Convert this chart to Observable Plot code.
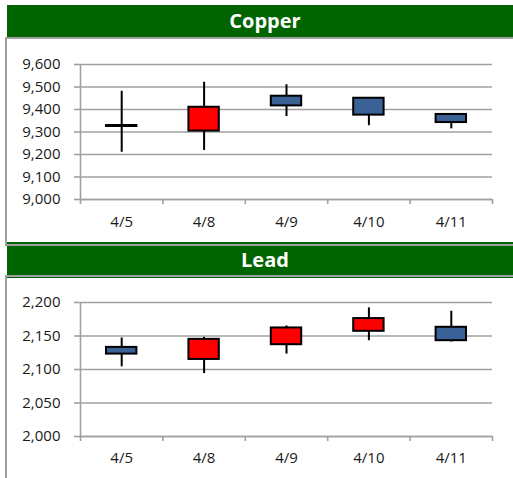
<!DOCTYPE html>
<html>
<head>
<meta charset="utf-8">
<script src="https://cdn.jsdelivr.net/npm/d3@7"></script>
<script src="https://cdn.jsdelivr.net/npm/@observablehq/plot@0.6"></script>
<style>
  html, body { margin: 0; padding: 0; }
  body { width: 513px; height: 478px; overflow: hidden; position: relative; background: #fff; font-family: "Open Sans", sans-serif; }
  .hdr { position: absolute; left: 7px; width: 516px; background: #006400; color: #fff; font-weight: bold; font-size: 20px; text-align: center; }
  .frame { position: absolute; left: 5px; width: 520px; box-sizing: border-box; border: 2px solid #a0a0a0; border-right: none; background: transparent; }
  .chart { position: absolute; left: 0; }
</style>
</head>
<body>
<div class="hdr" style="top:5px;height:32px;line-height:32px;">Copper</div>
<div class="hdr" style="top:242px;height:36px;line-height:35px;">Lead</div>
<div class="frame" style="top:37px;height:209px;"></div>
<div class="frame" style="top:275px;height:220px;border-bottom:none;"></div>
<div class="chart" id="copper" style="top:38px;"></div>
<div class="chart" id="lead" style="top:277px;"></div>
<script>
const dates = ["4/5", "4/8", "4/9", "4/10", "4/11"];

const copperOpen  = [9329, 9304, 9459, 9450, 9378];
const copperClose = [9329, 9410, 9416, 9375, 9342];
const copperHigh  = [9481, 9521, 9510, 9450, 9378];
const copperLow   = [9210, 9218, 9369, 9328, 9314];
const copperTicks = [9000, 9100, 9200, 9300, 9400, 9500, 9600];

const leadOpen  = [2133, 2115, 2137, 2157, 2163];
const leadClose = [2123, 2145, 2162, 2176, 2143];
const leadHigh  = [2147, 2148, 2165, 2192, 2187];
const leadLow   = [2104, 2094, 2123, 2143, 2141];
const leadTicks = [2000, 2050, 2100, 2150, 2200];

const UP = "#ff0000", DOWN = "#3a6296", GRID = "#a0a0a0", TEXT = "#1a1a1a";

function candle({open, close, high, low, ticks, height, marginTop, marginBottom, labelPad}) {
  const rows = dates.map((d, i) => ({i, d, open: open[i], close: close[i], high: high[i], low: low[i]}));
  const bodies = rows.filter(r => r.open !== r.close);
  const doji = rows.filter(r => r.open === r.close);
  const yDomain = [ticks[0], ticks[ticks.length - 1]];
  const bounds = d3.range(dates.length + 1);
  const centers = dates.map((d, i) => i + 0.5);
  return Plot.plot({
    width: 513, height,
    marginLeft: 80, marginRight: 21, marginTop, marginBottom,
    style: {fontFamily: "'Open Sans', sans-serif", fontSize: "15px", color: TEXT, background: "transparent", overflow: "visible"},
    x: {domain: [0, dates.length]},
    y: {domain: yDomain},
    marks: [
      Plot.gridY(ticks, {stroke: GRID, strokeOpacity: 1, strokeWidth: 1.6}),
      Plot.axisY(ticks, {tickSize: 6, tickPadding: 14, tickFormat: d3.format(","), stroke: GRID, strokeWidth: 1.6, fill: TEXT, label: null}),
      Plot.ruleX([0], {stroke: GRID, strokeWidth: 1.6}),
      Plot.ruleY([yDomain[0]], {stroke: GRID, strokeWidth: 1.6}),
      Plot.axisX(bounds, {tickSize: 5, tickFormat: () => "", stroke: GRID, strokeWidth: 1.6, label: null}),
      Plot.axisX(centers, {tickSize: 0, tickPadding: labelPad, tickFormat: v => dates[Math.floor(v)], fill: TEXT, label: null}),
      Plot.ruleX(rows, {x: r => r.i + 0.5, y1: "low", y2: "high", stroke: "#000", strokeWidth: 2}),
      Plot.rectY(bodies, {x1: "i", x2: r => r.i + 1, y1: "open", y2: "close", insetLeft: 26, insetRight: 26,
        fill: r => r.close > r.open ? UP : DOWN, stroke: "#000", strokeWidth: 2}),
      Plot.ruleY(doji, {y: "open", x1: "i", x2: r => r.i + 1, insetLeft: 25, insetRight: 25, stroke: "#000", strokeWidth: 3})
    ]
  });
}

document.getElementById("copper").append(candle({
  open: copperOpen, close: copperClose, high: copperHigh, low: copperLow,
  ticks: copperTicks, height: 207, marginTop: 26, marginBottom: 46, labelPad: 17
}));
document.getElementById("lead").append(candle({
  open: leadOpen, close: leadClose, high: leadHigh, low: leadLow,
  ticks: leadTicks, height: 201, marginTop: 25, marginBottom: 42, labelPad: 16
}));
</script>
</body>
</html>
